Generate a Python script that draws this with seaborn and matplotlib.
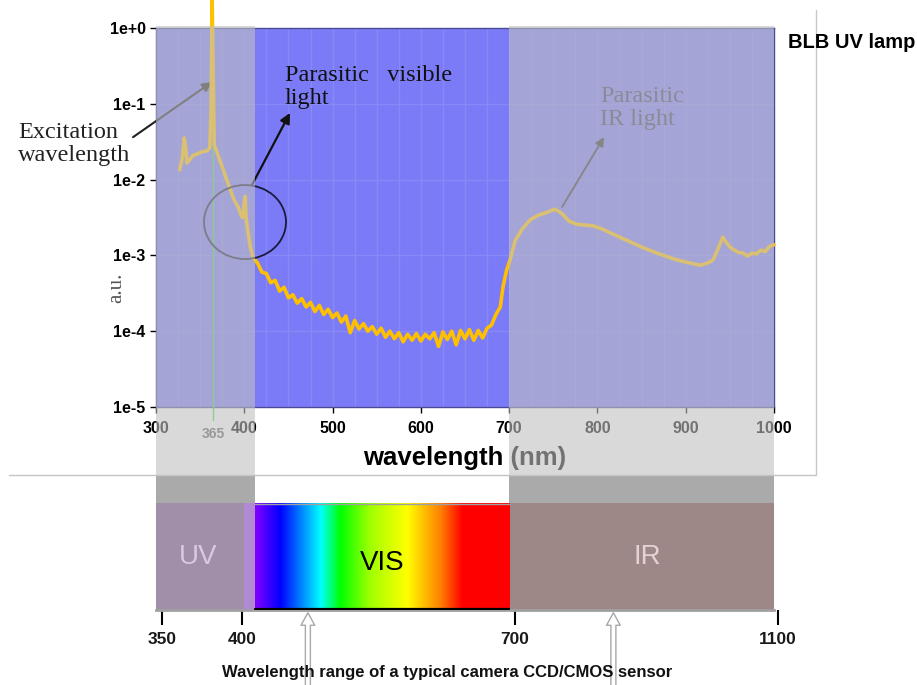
import numpy as np
import matplotlib.pyplot as plt
import seaborn as sns
from matplotlib import font_manager
from matplotlib.colors import LinearSegmentedColormap
from matplotlib.patches import Rectangle, Ellipse, FancyArrowPatch
from matplotlib.lines import Line2D
from matplotlib.ticker import NullLocator
from matplotlib.transforms import blended_transform_factory

# ---------------------------------------------------------------------------
# Data: BLB UV lamp emission (log10 of a.u.)
# ---------------------------------------------------------------------------
wavelength = [
    327, 330, 332, 334, 335, 338, 342, 347, 353, 358, 361, 362.5, 363.5,
    364.5, 366, 368, 372, 376, 380, 384, 387, 390, 393, 396, 398, 400, 401,
    402, 404, 407, 410,
    415, 420, 425, 430, 435, 440, 445, 450, 455, 460, 465, 470, 475, 480,
    485, 490, 495, 500, 505, 510, 515, 520, 525, 530, 535, 540, 545, 550,
    555, 560, 565, 570, 575, 580, 585, 590, 595, 600, 605, 610, 615, 620,
    625, 630, 635, 640, 645, 650, 655, 660, 665, 670, 675, 680, 685,
    690, 693, 697, 701, 707, 715, 724, 733, 741, 752, 760, 768, 777, 786,
    795, 805, 814, 833, 852, 870, 890, 905, 916, 925, 931, 937, 942, 946,
    950, 955, 960, 965, 970, 975, 980, 985, 990, 995, 1000,
]
log_au = [
    -1.87, -1.70, -1.45, -1.62, -1.78, -1.74, -1.68, -1.66, -1.63, -1.62,
    -1.58, -1.00, 0.45, -0.40, -1.55, -1.60, -1.74, -1.86, -2.00, -2.12,
    -2.23, -2.30, -2.36, -2.46, -2.50, -2.30, -2.22, -2.50, -2.68, -2.90,
    -3.03,
    -3.10, -3.22, -3.24, -3.36, -3.33, -3.47, -3.42, -3.56, -3.52, -3.63,
    -3.57, -3.68, -3.62, -3.74, -3.66, -3.78, -3.71, -3.82, -3.76, -3.88,
    -3.80, -4.02, -3.86, -3.97, -3.90, -4.00, -3.94, -4.04, -3.96, -4.08,
    -4.00, -4.10, -4.02, -4.14, -4.04, -4.12, -4.03, -4.13, -4.04, -4.10,
    -4.02, -4.20, -4.01, -4.11, -4.00, -4.18, -3.99, -4.10, -3.98, -4.12,
    -3.99, -4.09, -3.96, -3.92, -3.78,
    -3.68, -3.42, -3.20, -3.06, -2.80, -2.65, -2.53, -2.47, -2.44, -2.39,
    -2.45, -2.55, -2.59, -2.60, -2.61, -2.65, -2.70, -2.80, -2.90, -2.98,
    -3.06, -3.10, -3.13, -3.10, -3.06, -2.90, -2.76, -2.83, -2.89, -2.93,
    -2.96, -2.97, -3.01, -2.97, -2.98, -2.93, -2.95, -2.88, -2.86,
]
excitation_wl = 365

x_ticks = [300, 400, 500, 600, 700, 800, 900, 1000]
y_ticks = [1e0, 1e-1, 1e-2, 1e-3, 1e-4, 1e-5]
y_tick_labels = ["1e+0", "1e-1", "1e-2", "1e-3", "1e-4", "1e-5"]

# bands of the sensor strip
uv_band = (300, 400)
violet_band = (400, 412)
vis_band = (412, 700)
ir_band = (700, 1000)
spectrum_stops = [412, 440, 486, 508, 542, 584, 622, 647, 700]
spectrum_colors = ["#8000ff", "#0000ff", "#00ffff", "#00ff00", "#a0ff00",
                   "#ffff00", "#ff8000", "#ff0000", "#ff0000"]

# schematic sensor axis (not linear in the original)
sensor_tick_pos = [306.8, 397.4, 706.6, 1004.5]
sensor_tick_labels = ["350", "400", "700", "1100"]
sensor_arrow_pos = [472, 818]

# ---------------------------------------------------------------------------
# Style
# ---------------------------------------------------------------------------
sns.set_theme(style="ticks")
plt.rcParams["font.family"] = ["Liberation Sans", "DejaVu Sans"]
names = {f.name for f in font_manager.fontManager.ttflist}
NARROW = "Liberation Sans Narrow" if "Liberation Sans Narrow" in names else "Liberation Sans"
SERIF = ["Liberation Serif", "DejaVu Serif"]

W, H = 917, 685
fig = plt.figure(figsize=(W / 100, H / 100), dpi=100)


def px_box(x0, y0, x1, y1):
    # pixel box (top-left origin) -> figure fraction rect
    return [x0 / W, 1 - y1 / H, (x1 - x0) / W, (y1 - y0) / H]


# ---------------------------------------------------------------------------
# Main spectrum panel
# ---------------------------------------------------------------------------
ax = fig.add_axes(px_box(156, 28, 774, 407))
ax.set_facecolor("#7b7bf7")
ax.set_yscale("log")

intensity = 10 ** np.array(log_au)
sns.lineplot(x=wavelength, y=intensity, ax=ax, color="#ffc000", lw=2.6,
             sort=False, estimator=None, clip_on=False, zorder=4)

ax.set_xlim(300, 1000)
ax.set_ylim(1e-5, 1)
ax.set_xticks(x_ticks)
ax.set_xticklabels([str(t) for t in x_ticks], fontweight="bold")
ax.set_xticks(np.arange(300, 1001, 25), minor=True)
ax.set_yticks(y_ticks)
ax.set_yticklabels(y_tick_labels, fontweight="bold")
ax.yaxis.set_minor_locator(NullLocator())
ax.tick_params(axis="both", which="major", direction="out", length=4,
               width=1, color="black", labelsize=11.5, labelcolor="black")
ax.tick_params(axis="x", which="major", pad=6)
ax.tick_params(axis="x", which="minor", length=0)
ax.grid(True, which="both", axis="x", color="#8888f6", lw=1)
ax.grid(True, which="major", axis="y", color="#8888f6", lw=1)
for sp in ax.spines.values():
    sp.set_color("#4a4a9a")
    sp.set_linewidth(1)

ax.set_xlabel("wavelength (nm)", fontsize=18.5, fontweight="bold",
              color="black", labelpad=7)
ax.text(-0.063, 0.314, "a.u.", transform=ax.transAxes, rotation=90,
        family=SERIF, fontsize=15, color="#555555", ha="center", va="center")

# excitation line at 365 nm
ax.axvline(excitation_wl, ymin=-0.035, ymax=1, color="#40e040", lw=1,
           clip_on=False, zorder=3)
ax.text(excitation_wl, -0.072, "365", transform=blended_transform_factory(
    ax.transData, ax.transAxes), ha="center", va="center", fontsize=10,
    fontweight="bold", color="#5e5e5e")

# annotations
ax.text(144, 0.0295, "Excitation\nwavelength", family=SERIF, fontsize=17.5,
        ha="left", va="center", linespacing=1.15, color="#222222")
ax.annotate("", xy=(363.4, 0.194), xytext=(274, 0.0363),
            arrowprops=dict(arrowstyle="-|>", lw=1.5, color="#222222",
                            mutation_scale=14, shrinkA=0, shrinkB=0),
            annotation_clip=False)

ax.text(446, 0.166, "Parasitic   visible\nlight", family=SERIF,
        fontsize=17.5, ha="left", va="center", linespacing=1.1,
        color="#111111")
ax.annotate("", xy=(451.8, 0.0759), xytext=(408.7, 0.0085),
            arrowprops=dict(arrowstyle="-|>", lw=1.6, color="#111111",
                            mutation_scale=15, shrinkA=0, shrinkB=0))

ax.text(803, 0.088, "Parasitic\nIR light", family=SERIF, fontsize=17.5,
        ha="left", va="center", linespacing=1.1, color="#3c3c5a")
ax.annotate("", xy=(807.5, 0.0363), xytext=(760, 0.00436),
            arrowprops=dict(arrowstyle="-|>", lw=1.3, color="#303030",
                            mutation_scale=13, shrinkA=0, shrinkB=0))

fig.canvas.draw()
cx, cy = ax.transAxes.inverted().transform(
    ax.transData.transform((400.8, 10 ** -2.56)))
ax.add_patch(Ellipse((cx, cy), 82 / 618, 74 / 379, transform=ax.transAxes,
                     fill=False, ec="#1a1a3a", lw=1.3, zorder=5))

# translucent grey overlay on UV and IR columns
btr = blended_transform_factory(ax.transData, fig.transFigure)
for lo, hi in [(300, vis_band[0]), ir_band]:
    ax.add_patch(Rectangle((lo, 1 - 475 / H), hi - lo, (475 - 26) / H,
                           transform=btr, color="#c0c0c0", alpha=0.6,
                           lw=0, clip_on=False, zorder=10))
    ax.add_patch(Rectangle((lo, 1 - 503 / H), hi - lo, 28 / H,
                           transform=btr, color="#aaaaaa", lw=0,
                           clip_on=False, zorder=10))

# chart-area frame
fig.add_artist(Line2D([816 / W, 816 / W], [1 - 10 / H, 1 - 475 / H],
                      color="#c8c8c8", lw=1))
fig.add_artist(Line2D([9 / W, 816 / W], [1 - 475 / H, 1 - 475 / H],
                      color="#c4c4c4", lw=1))
fig.text(788 / W, 1 - 42 / H, "BLB UV lamp", fontsize=14.5,
         fontweight="bold", ha="left", va="center", color="black")

# ---------------------------------------------------------------------------
# Sensor strip
# ---------------------------------------------------------------------------
ax2 = fig.add_axes(px_box(156, 503, 790, 610))
ax2.set_xlim(300, 1018)
ax2.set_ylim(0, 1)
ax2.axvspan(*uv_band, color="#a18fa9", lw=0)
ax2.axvspan(*violet_band, color="#b08ad3", lw=0)
ax2.axvspan(*ir_band, color="#9e8887", lw=0)

stops = (np.array(spectrum_stops) - vis_band[0]) / (vis_band[1] - vis_band[0])
cmap = LinearSegmentedColormap.from_list("vis", list(zip(stops, spectrum_colors)))
grad = np.linspace(0, 1, 400)[None, :]
ax2.imshow(grad, extent=(vis_band[0], vis_band[1], 0, 1), aspect="auto",
           cmap=cmap, zorder=1)
ax2.plot(vis_band, [0.01, 0.01], color="black", lw=1.6, zorder=3)
ax2.plot(vis_band, [0.99, 0.99], color="#a0a0a0", lw=1, zorder=3)

ax2.text(347.6, 0.5, "UV", fontsize=20, color="#d8c8e0", ha="center", va="center")
ax2.text(556, 0.44, "VIS", fontsize=20, color="black", ha="center", va="center")
ax2.text(856, 0.5, "IR", fontsize=20, color="#e2d2d2", ha="center", va="center")

for side in ["left", "right", "top"]:
    ax2.spines[side].set_visible(False)
ax2.spines["bottom"].set_bounds(300, 1000)
ax2.spines["bottom"].set_color("#a0a0a0")
ax2.spines["bottom"].set_linewidth(2)
ax2.set_yticks([])
ax2.set_xticks(sensor_tick_pos)
ax2.set_xticklabels(sensor_tick_labels, family=NARROW, fontsize=12.5,
                    fontweight="bold", color="#1a1a1a")
ax2.tick_params(axis="x", direction="out", length=11, width=1.5,
                color="black", pad=5)

for xpos in sensor_arrow_pos:
    ax2.add_patch(FancyArrowPatch(
        (xpos, -0.75), (xpos, 0.0),
        arrowstyle="simple,head_length=1.0,head_width=1.1,tail_width=0.4",
        mutation_scale=9, fc="white", ec="#a8a8a8", lw=1, clip_on=False,
        zorder=0))

fig.text(447 / W, 1 - 672 / H,
         "Wavelength range of a typical camera CCD/CMOS sensor",
         family=NARROW, fontsize=12, fontweight="bold", ha="center",
         va="center", color="#111111")

fig.savefig("out.png", dpi=100, facecolor="white")
